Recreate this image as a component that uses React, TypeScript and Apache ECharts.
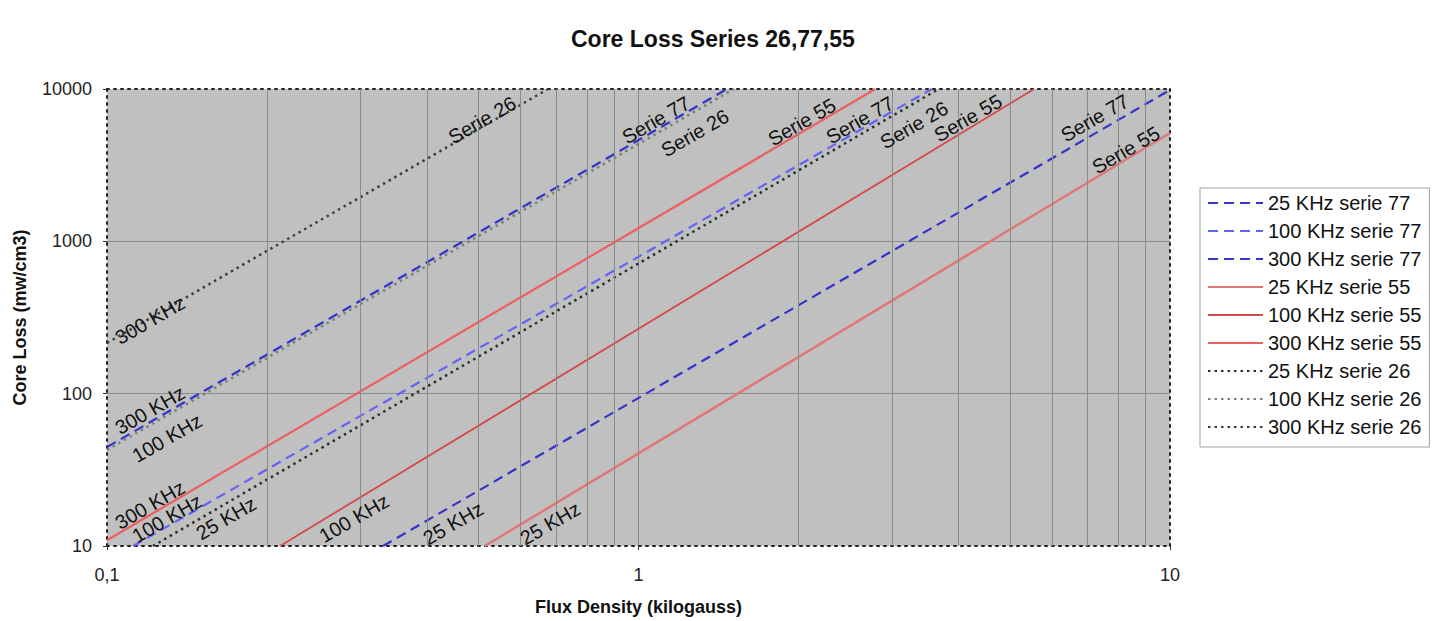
import React, { useEffect, useRef } from "react";
import * as echarts from "echarts";

// ---- Data ----
// Each line: two end points [flux density (kG), core loss (mW/cm3)] on the log-log chart
const serie77_25KHz: [number, number][] = [[0.3306, 10], [10, 9850]];
const serie77_100KHz: [number, number][] = [[0.112, 10], [3.56, 10000]];
const serie77_300KHz: [number, number][] = [[0.1, 44.6], [1.467, 10000]];
const serie55_25KHz: [number, number][] = [[0.514, 10], [10, 5140]];
const serie55_100KHz: [number, number][] = [[0.2116, 10], [5.55, 10000]];
const serie55_300KHz: [number, number][] = [[0.1, 10.9], [2.79, 10000]];
const serie26_25KHz: [number, number][] = [[0.122, 10], [3.67, 10000]];
const serie26_100KHz: [number, number][] = [[0.1, 42.7], [1.512, 10000]];
const serie26_300KHz: [number, number][] = [[0.1, 215], [0.676, 10000]];

const legendNames = [
  "25 KHz serie 77",
  "100 KHz serie 77",
  "300 KHz serie 77",
  "25 KHz serie 55",
  "100 KHz serie 55",
  "300 KHz serie 55",
  "25 KHz serie 26",
  "100 KHz serie 26",
  "300 KHz serie 26",
];

// label anchors [B, loss] for the frequency (left) and series (top) annotations
const freqLabelAt: [number, number][] = [
  [0.448, 14.1], // 25 KHz s77
  [0.1297, 15.2], // 100 KHz s77
  [0.1205, 78], // 300 KHz s77
  [0.682, 14.1], // 25 KHz s55
  [0.2915, 15.2], // 100 KHz s55
  [0.1205, 18.6], // 300 KHz s55
  [0.1675, 15.2], // 25 KHz s26
  [0.1297, 51.1], // 100 KHz s26
  [0.1205, 304], // 300 KHz s26
];
const freqLabelText = ["25 KHz", "100 KHz", "300 KHz", "25 KHz", "100 KHz", "300 KHz", "25 KHz", "100 KHz", "300 KHz"];
const serieLabelAt: [number, number][] = [
  [7.22, 6450],
  [2.61, 6260],
  [1.079, 6260],
  [8.26, 3977],
  [4.17, 6450],
  [2.03, 6070],
  [3.3, 5800],
  [1.277, 5140],
  [0.508, 6260],
];
const serieLabelText = ["Serie 77", "Serie 77", "Serie 77", "Serie 55", "Serie 55", "Serie 55", "Serie 26", "Serie 26", "Serie 26"];

const minorGridB = [0.2, 0.3, 0.4, 0.5, 0.6, 0.7, 0.8, 0.9, 2, 3, 4, 5, 6, 7, 8, 9];
const xTickText: Record<string, string> = { "0.1": "0,1", "1": "1", "10": "10" };

const seriesData = [
  serie77_25KHz, serie77_100KHz, serie77_300KHz,
  serie55_25KHz, serie55_100KHz, serie55_300KHz,
  serie26_25KHz, serie26_100KHz, serie26_300KHz,
];

const FONT = "Liberation Sans, Arial, sans-serif";

const lineStyles = [
  { color: "#3434c8", width: 2.2, type: [10, 6] },
  { color: "#6464f4", width: 2.2, type: [10, 6] },
  { color: "#3434c8", width: 2.2, type: [10, 6] },
  { color: "#e27676", width: 2.5, type: "solid" },
  { color: "#d44a4a", width: 1.8, type: "solid" },
  { color: "#ee5e5e", width: 2.2, type: "solid" },
  { color: "#2a2f2a", width: 2.5, type: [2.5, 4] },
  { color: "#758575", width: 2.5, type: [2.5, 4] },
  { color: "#3a403a", width: 2.5, type: [2.5, 4] },
];

export default function App() {
  const ref = useRef<HTMLDivElement>(null);
  useEffect(() => {
    if (!ref.current) return;
    const chart = echarts.init(ref.current, null, { renderer: "svg" });
    const dotted = { color: "#222", type: [2, 5] as any, width: 2 };
    const series: any[] = seriesData.map((d, i) => ({
      name: legendNames[i],
      type: "line",
      data: d,
      symbol: "none",
      showSymbol: false,
      xAxisIndex: 0,
      yAxisIndex: 0,
      z: 3,
      lineStyle: lineStyles[i],
      itemStyle: { color: lineStyles[i].color },
      markPoint: {
        symbol: "circle",
        symbolSize: 0,
        silent: true,
        itemStyle: { color: "rgba(0,0,0,0)" },
        label: {
          show: true,
          position: "inside",
          rotate: 30,
          fontSize: 20,
          color: "#111",
          fontFamily: FONT,
        },
        data: [
          { name: "f", coord: freqLabelAt[i], label: { formatter: freqLabelText[i] } },
          { name: "s", coord: serieLabelAt[i], label: { formatter: serieLabelText[i] } },
        ],
      },
    }));
    series.unshift({
      name: "minorGrid",
      type: "line",
      data: [],
      xAxisIndex: 0,
      yAxisIndex: 0,
      z: 1,
      silent: true,
      markLine: {
        silent: true,
        symbol: "none",
        label: { show: false },
        lineStyle: { color: "#8a8a8a", width: 1, type: "solid" },
        data: minorGridB.map((b) => ({ xAxis: b })),
      },
    });

    chart.setOption({
      animation: false,
      backgroundColor: "#ffffff",
      title: {
        text: "Core Loss Series 26,77,55",
        left: 566,
        top: 22,
        textStyle: { fontSize: 23, fontWeight: "bold", color: "#111", fontFamily: FONT },
      },
      legend: {
        data: legendNames,
        orient: "vertical",
        left: 1200,
        top: 188,
        itemWidth: 55,
        itemHeight: 14,
        itemGap: 8,
        padding: [5, 8, 10, 7],
        borderColor: "#a0a0a0",
        borderWidth: 1,
        itemStyle: { color: "rgba(0,0,0,0)", borderWidth: 0, opacity: 0 },
        textStyle: { fontSize: 20, color: "#111", fontFamily: FONT, lineHeight: 20 },
      },
      grid: {
        left: 107,
        top: 89,
        right: 265,
        bottom: 75,
        show: true,
        backgroundColor: "#c0c0c0",
        borderWidth: 0,
        containLabel: false,
        outerBoundsMode: "none",
      },
      xAxis: [
        {
          type: "log",
          logBase: 10,
          min: 0.1,
          max: 10,
          position: "bottom",
          name: "Flux Density (kilogauss)",
          nameLocation: "middle",
          nameGap: 52,
          nameTextStyle: { fontSize: 18, fontWeight: "bold", color: "#111", fontFamily: FONT },
          axisLine: { show: true, onZero: false, lineStyle: dotted },
          axisTick: { show: true, length: 4, lineStyle: { color: "#333" } },
          axisLabel: {
            fontSize: 18,
            color: "#222",
            margin: 20,
            fontFamily: FONT,
            formatter: (v: number) => xTickText[String(v)] ?? String(v),
          },
          splitLine: { show: true, showMinLine: false, showMaxLine: false, lineStyle: { color: "#8a8a8a", width: 1 } },
          minorTick: { show: false },
        },
        {
          type: "log",
          logBase: 10,
          min: 0.1,
          max: 10,
          position: "top",
          axisLine: { show: true, onZero: false, lineStyle: dotted },
          axisTick: { show: false },
          axisLabel: { show: false },
          splitLine: { show: false },
        },
      ],
      yAxis: [
        {
          type: "log",
          logBase: 10,
          min: 10,
          max: 10000,
          position: "left",
          name: "Core Loss (mw/cm3)",
          nameLocation: "middle",
          nameGap: 78,
          nameRotate: 90,
          nameTextStyle: { fontSize: 18, fontWeight: "bold", color: "#111", fontFamily: FONT },
          axisLine: { show: true, onZero: false, lineStyle: dotted },
          axisTick: { show: true, length: 4, lineStyle: { color: "#333" } },
          axisLabel: {
            fontSize: 18,
            color: "#222",
            margin: 15,
            fontFamily: FONT,
            formatter: (v: number) => String(Math.round(v)),
          },
          splitLine: { show: true, showMinLine: false, showMaxLine: false, lineStyle: { color: "#8a8a8a", width: 1 } },
        },
        {
          type: "log",
          logBase: 10,
          min: 10,
          max: 10000,
          position: "right",
          axisLine: { show: true, onZero: false, lineStyle: dotted },
          axisTick: { show: false },
          axisLabel: { show: false },
          splitLine: { show: false },
        },
      ],
      series,
    });
    return () => chart.dispose();
  }, []);
  return (
    <div
      ref={ref}
      style={{ position: "fixed", left: 0, top: 0, width: 1435, height: 621, background: "#fff" }}
    />
  );
}
